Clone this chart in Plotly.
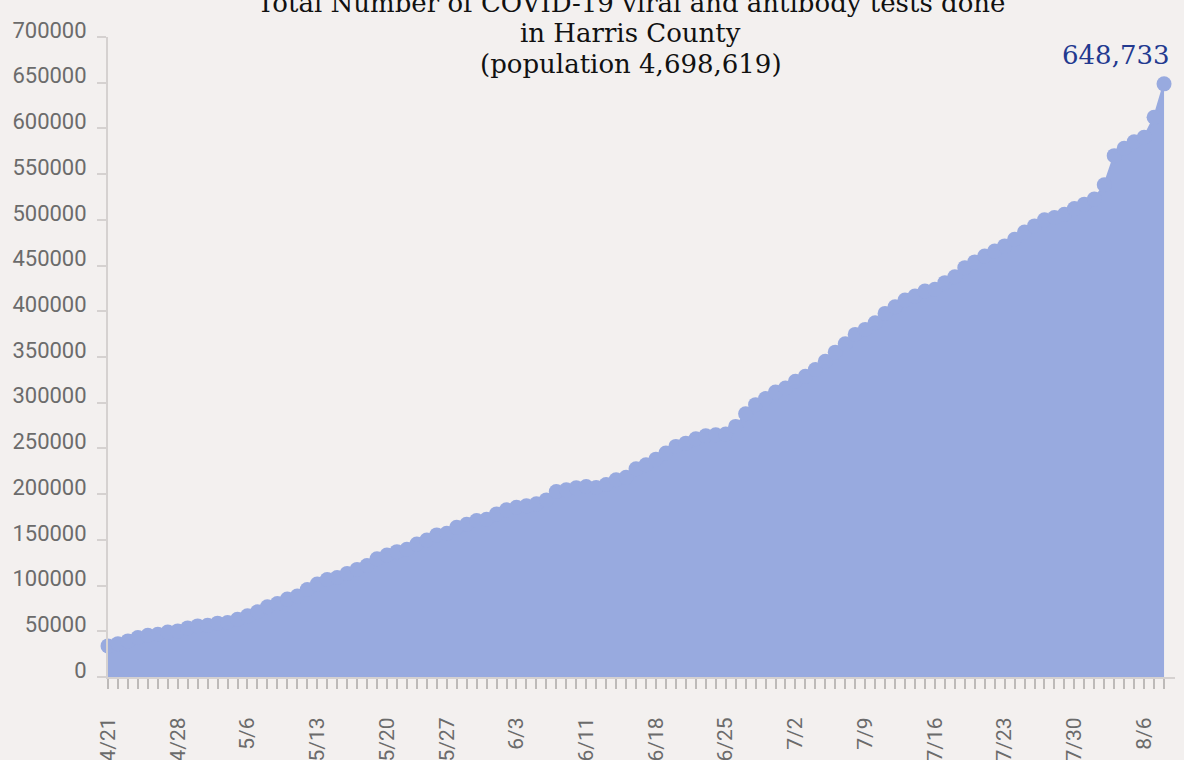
import plotly.graph_objects as go

# Categories (dates shown on the chart; a few days absent from the source)
dates = [
    "4/21", "4/22", "4/23", "4/24", "4/25", "4/26", "4/27", "4/28", "4/29", "4/30",
    "5/1", "5/2", "5/4", "5/5", "5/6", "5/7", "5/8", "5/9", "5/10", "5/11",
    "5/12", "5/13", "5/14", "5/15", "5/16", "5/17", "5/18", "5/19", "5/20", "5/21",
    "5/22", "5/23", "5/24", "5/26", "5/27", "5/28", "5/29", "5/30", "5/31", "6/1",
    "6/2", "6/3", "6/4", "6/5", "6/6", "6/8", "6/9", "6/10", "6/11", "6/12",
    "6/13", "6/14", "6/15", "6/16", "6/17", "6/18", "6/19", "6/20", "6/21", "6/22",
    "6/23", "6/24", "6/25", "6/26", "6/27", "6/28", "6/29", "6/30", "7/1", "7/2",
    "7/3", "7/4", "7/5", "7/6", "7/7", "7/8", "7/9", "7/10", "7/11", "7/12",
    "7/13", "7/14", "7/15", "7/16", "7/17", "7/18", "7/19", "7/20", "7/21", "7/22",
    "7/23", "7/24", "7/25", "7/26", "7/27", "7/28", "7/29", "7/30", "7/31", "8/1",
    "8/2", "8/3", "8/4", "8/5", "8/6", "8/7", "8/8",
]

# Cumulative tests
tests = [
    34000, 36500, 39500, 43100, 45700, 46800, 49300, 50400, 53700, 55900,
    56500, 58900, 59500, 63200, 66900, 71300, 76800, 80400, 85200, 88500,
    95700, 101600, 106700, 108900, 113300, 117700, 122000, 129400, 133400, 137100,
    139600, 145500, 149900, 155400, 157100, 163700, 167000, 171100, 172500, 178400,
    182800, 185600, 187200, 189400, 193700, 202900, 204700, 206900, 208300, 207200,
    210500, 215700, 218500, 227700, 232100, 238300, 244900, 252200, 255800, 260600,
    263900, 265000, 265700, 274100, 288000, 297900, 304500, 311800, 316100, 323500,
    329000, 336300, 345400, 355300, 364400, 374700, 380200, 387400, 397700, 404900,
    412300, 416700, 422200, 424000, 431300, 437800, 447700, 454000, 460500, 466000,
    471500, 478800, 486800, 493400, 500000, 502600, 506200, 512400, 517200, 522700,
    538400, 570200, 578200, 585500, 590300, 612200, 648733,
]

# Labelled ticks on the x axis
x_labels = ["4/21", "4/28", "5/6", "5/13", "5/20", "5/27", "6/3", "6/11",
            "6/18", "6/25", "7/2", "7/9", "7/16", "7/23", "7/30", "8/6"]

title_lines = ["Total Number of COVID-19 viral and antibody tests done",
               "in Harris County",
               "(population 4,698,619)"]

BG = "#F3F0EF"
FILL = "#98AADF"
AXIS = "#D5D1D0"
TICKTXT = "#6B6B6B"

fig = go.Figure()
fig.add_trace(go.Scatter(
    x=dates, y=tests,
    mode="lines+markers",
    fill="tozeroy",
    fillcolor=FILL,
    line=dict(color=FILL, width=2),
    marker=dict(color=FILL, size=15),
    cliponaxis=False,
    hoverinfo="x+y",
    showlegend=False,
))

fig.add_annotation(
    text=f"{tests[-1]:,}",
    x=dates[-1], y=tests[-1], xref="x", yref="y",
    xanchor="right", yanchor="bottom", xshift=8, yshift=12,
    showarrow=False,
    font=dict(family="DejaVu Serif", size=26, color="#22398F"),
)

# Title lines, each placed by its own pixel offset from the top of the plot area
line_centers_px = [3, 33, 64]
for txt, cy in zip(title_lines, line_centers_px):
    fig.add_annotation(
        text=txt,
        xref="paper", yref="paper", x=0.49, y=(677 - cy) / 640,
        xanchor="center", yanchor="middle",
        showarrow=False,
        font=dict(family="DejaVu Serif", size=26, color="#111111"),
    )

fig.update_layout(
    width=1184, height=760,
    margin=dict(l=108, r=9, t=37, b=83, autoexpand=False),
    paper_bgcolor=BG, plot_bgcolor=BG,
    font=dict(family="Roboto", color=TICKTXT),
)

fig.update_xaxes(
    type="category",
    automargin=False,
    range=[0, 107.1],
    tickmode="array",
    tickvals=dates,
    ticktext=[d if d in x_labels else "" for d in dates],
    tickangle=-90,
    ticks="outside", ticklen=10, tickwidth=1.5, tickcolor="#BDBAB9",
    ticklabelstandoff=20,
    showline=True, linecolor=AXIS, linewidth=2,
    showgrid=False, zeroline=False,
    tickfont=dict(family="Roboto", size=21, color=TICKTXT),
)

fig.update_yaxes(
    automargin=False,
    range=[0, 700000],
    tick0=0, dtick=50000, tickformat="d",
    ticks="outside", ticklen=9, tickwidth=1.5, tickcolor=AXIS,
    ticklabelshift=-7, ticklabelstandoff=6,
    showline=True, linecolor=AXIS, linewidth=2,
    showgrid=False, zeroline=False,
    tickfont=dict(family="Roboto", size=22, color=TICKTXT),
)

fig.write_html(
    "out.html",
    config={"displayModeBar": False},
    post_script="document.body.style.margin='0';document.body.style.overflow='hidden';",
)
